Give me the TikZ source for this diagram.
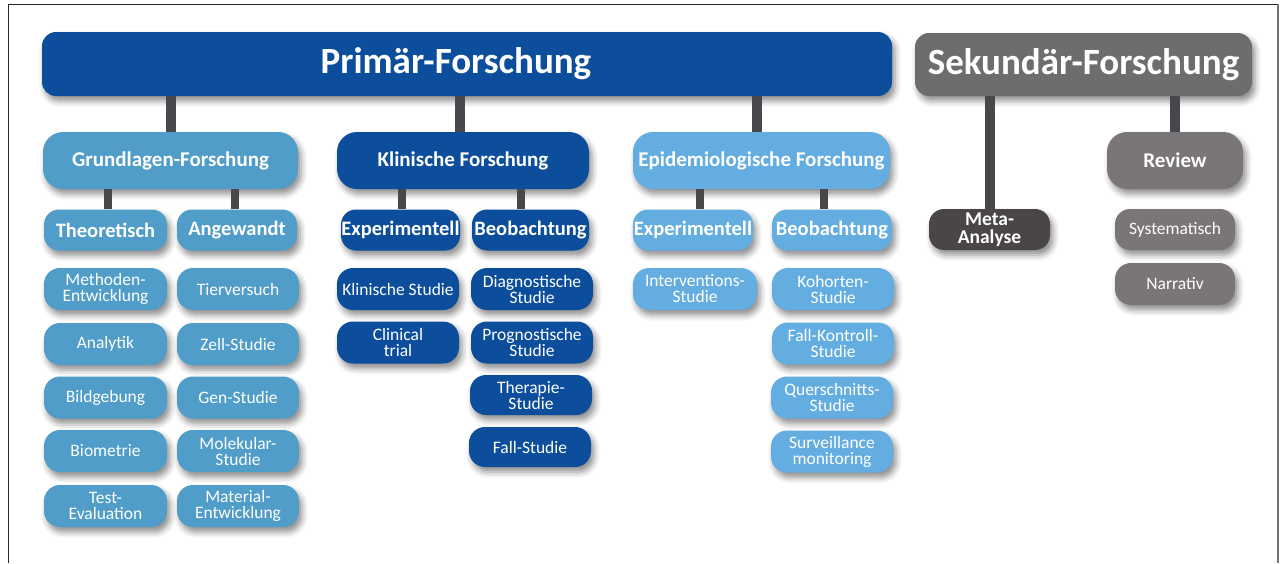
\documentclass[tikz,border=0pt]{standalone}
\usepackage{fontspec}
\setmainfont{Carlito}
\usetikzlibrary{shadows.blur,calc}

\definecolor{primblue}{RGB}{12,78,156}
\definecolor{grundblue}{RGB}{80,157,201}
\definecolor{epiblue}{RGB}{100,173,225}
\definecolor{sekgray}{RGB}{110,108,110}
\definecolor{revgray}{RGB}{122,117,120}
\definecolor{metagray}{RGB}{74,69,71}
\definecolor{conngray}{RGB}{72,72,76}

\tikzset{
  box/.style={text=white, align=center, inner sep=0pt,
    blur shadow={shadow xshift=3pt, shadow yshift=-5pt,
      shadow blur radius=6pt, shadow opacity=45}},
  topbar/.style={box, rounded corners=14pt,
    font=\fontsize{37}{40}\selectfont\bfseries},
  cat/.style={box, rounded corners=20pt, minimum height=57pt,
    font=\fontsize{21}{23}\selectfont\bfseries},
  sub/.style={box, rounded corners=15pt, minimum height=41pt,
    font=\fontsize{20.5}{17}\selectfont\bfseries},
  leaf/.style={box, rounded corners=16pt, minimum height=42pt,
    minimum width=122pt, font=\fontsize{17.5}{16}\selectfont},
  conn/.style={draw=conngray, line width=10pt},
  thinconn/.style={draw=conngray, line width=8pt},
}

\begin{document}
\begin{tikzpicture}[x=1pt, y=-1pt]
\useasboundingbox (0,0) rectangle (1284,563);

% frame
\draw[black!85, line width=1pt] (8,563) -- (8,4) -- (1278,4);
\draw[black!55, line width=1.6pt] (1278,4) -- (1278,563);

% top bars
\node[topbar, fill=primblue, minimum width=850pt, minimum height=64pt] (prim) at (467,64) {\hspace*{-22pt}Primär-Forschung};
\node[topbar, fill=sekgray, minimum width=337pt, minimum height=63pt] (sek) at (1083.5,64.5) {Sekundär-Forschung};

% second level
\node[cat, fill=grundblue, minimum width=255pt] (grund) at (170.5,160.5) {Grundlagen-Forschung};
\node[cat, fill=primblue, minimum width=252pt] (klin) at (463,160.5) {Klinische Forschung};
\node[cat, fill=epiblue, minimum width=257pt] (epi) at (761.5,160.5) {Epidemiologische Forschung};
\node[cat, fill=revgray, minimum width=136pt] (review) at (1175,160.5) {Review};

% third level
\node[sub, fill=grundblue, minimum width=123pt] (theo) at (105.5,230) {Theoretisch};
\node[sub, fill=grundblue, minimum width=120pt] (angew) at (237,230) {Angewandt};
\node[sub, fill=primblue, minimum width=119pt] (kexp) at (400.5,230) {Experimentell};
\node[sub, fill=primblue, minimum width=117pt] (kbeo) at (530.5,230) {Beobachtung};
\node[sub, fill=epiblue, minimum width=120pt] (eexp) at (693,230) {Experimentell};
\node[sub, fill=epiblue, minimum width=120pt] (ebeo) at (832,230) {Beobachtung};
\node[sub, fill=metagray, minimum width=121pt, font=\fontsize{19.5}{18}\selectfont\bfseries] (meta) at (989.5,229.5) {Meta-\\Analyse};
\node[sub, fill=revgray, minimum width=120pt, font=\fontsize{17.5}{16}\selectfont] (syst) at (1175,229.5) {Systematisch};

% basic research leaves
\node[leaf, fill=grundblue, minimum width=123pt] (meth) at (105.5,289) {Methoden-\\Entwicklung};
\node[leaf, fill=grundblue, minimum width=123pt] (analy) at (105.5,344) {Analytik};
\node[leaf, fill=grundblue, minimum width=123pt] (bild) at (105.5,397.5) {Bildgebung};
\node[leaf, fill=grundblue, minimum width=123pt] (biom) at (105.5,451) {Biometrie};
\node[leaf, fill=grundblue, minimum width=123pt] (testev) at (105.5,506) {Test-\\Evaluation};
\node[leaf, fill=grundblue] (tier) at (238,289) {Tierversuch};
\node[leaf, fill=grundblue] (zell) at (238,344) {Zell-Studie};
\node[leaf, fill=grundblue] (gen) at (238,397.5) {Gen-Studie};
\node[leaf, fill=grundblue] (molek) at (238,451) {Molekular-\\Studie};
\node[leaf, fill=grundblue] (mater) at (238,506) {Material-\\Entwicklung};

% clinical research leaves
\node[leaf, fill=primblue] (kstud) at (398,289) {Klinische Studie};
\node[leaf, fill=primblue] (ctrial) at (398,342.5) {Clinical\\trial};
\node[leaf, fill=primblue] (diag) at (532,289) {Diagnostische\\Studie};
\node[leaf, fill=primblue] (prog) at (532,342.5) {Prognostische\\Studie};
\node[leaf, fill=primblue, minimum height=40pt] (ther) at (531,395) {Therapie-\\Studie};
\node[leaf, fill=primblue, minimum height=40pt] (fall) at (530,447) {Fall-Studie};

% epidemiological research leaves
\node[leaf, fill=epiblue, minimum width=124pt] (interv) at (695,289) {Interventions-\\Studie};
\node[leaf, fill=epiblue] (kohort) at (833,289) {Kohorten-\\Studie};
\node[leaf, fill=epiblue] (fallk) at (833,343.5) {Fall-Kontroll-\\Studie};
\node[leaf, fill=epiblue] (quer) at (832,397.5) {Querschnitts-\\Studie};
\node[leaf, fill=epiblue] (surv) at (832,451.5) {Surveillance\\monitoring};

% secondary research leaf
\node[leaf, fill=revgray, minimum width=120pt, font=\fontsize{17.5}{16}\selectfont] (narr) at (1175,284) {Narrativ};

% connectors from the top bars
\draw[conn] (grund.north) -- (grund.north |- prim.south);
\draw[conn] (klin.north) ++(-3,0) coordinate (kc) -- (kc |- prim.south);
\draw[conn] (epi.north) ++(-5,0) coordinate (ec) -- (ec |- prim.south);
\draw[conn] (meta.north) -- (meta.north |- sek.south);
\draw[conn] (review.north) -- (review.north |- sek.south);

% connectors from the second level
\coordinate (g1) at ($(grund.south)+(-63,0)$);
\coordinate (g2) at ($(grund.south)+(64,0)$);
\coordinate (k1) at ($(klin.south)+(-61,0)$);
\coordinate (k2) at ($(klin.south)+(58,0)$);
\coordinate (e1) at ($(epi.south)+(-62,0)$);
\coordinate (e2) at ($(epi.south)+(62,0)$);
\draw[thinconn] (g1) -- (g1 |- theo.north);
\draw[thinconn] (g2) -- (g2 |- angew.north);
\draw[thinconn] (k1) -- (k1 |- kexp.north);
\draw[thinconn] (k2) -- (k2 |- kbeo.north);
\draw[thinconn] (e1) -- (e1 |- eexp.north);
\draw[thinconn] (e2) -- (e2 |- ebeo.north);
\end{tikzpicture}
\end{document}
